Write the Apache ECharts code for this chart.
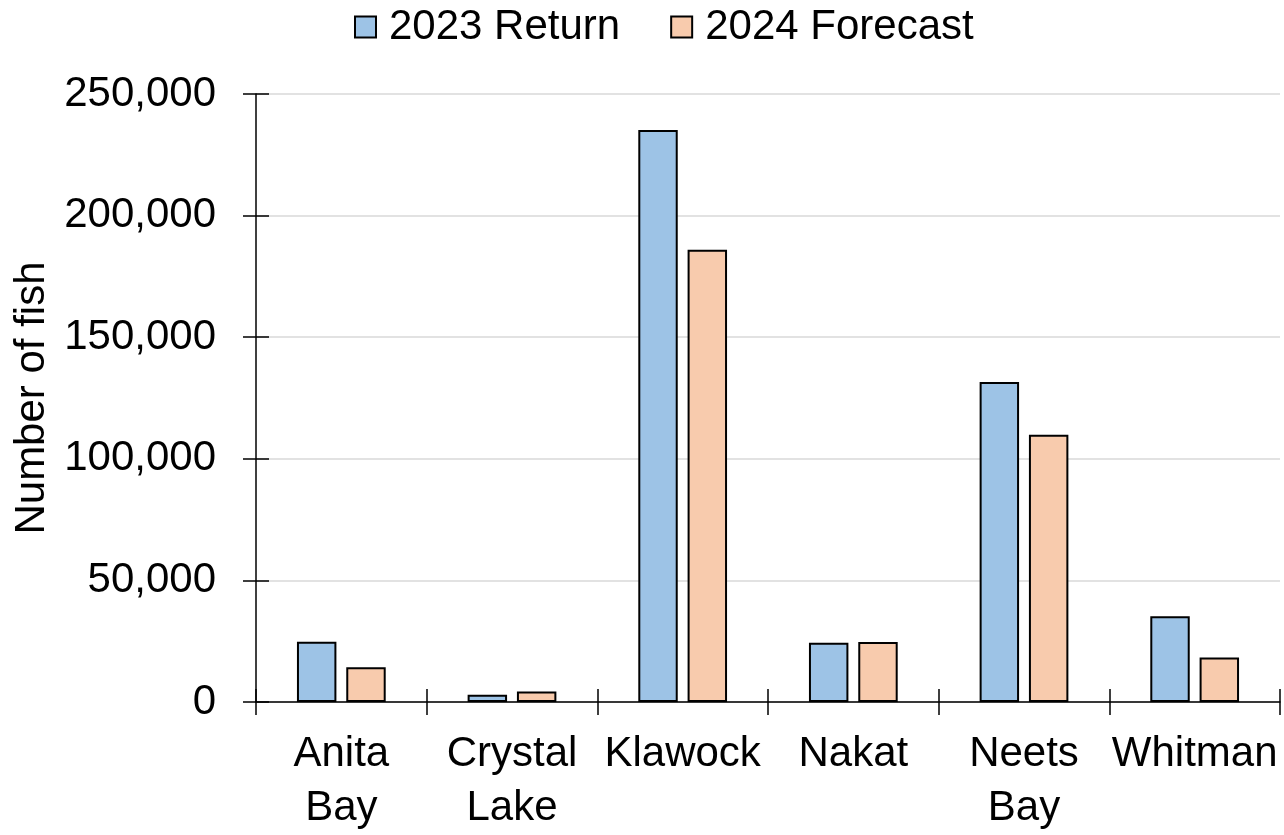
<!DOCTYPE html>
<html>
<head>
<meta charset="utf-8">
<script src="https://cdn.jsdelivr.net/npm/echarts@6/dist/echarts.min.js"></script>
<style>html,body{margin:0;padding:0;background:#fff;overflow:hidden}#c{width:1284px;height:835px}</style>
</head>
<body>
<div id="c"></div>
<script>
const categories = ['Anita\nBay', 'Crystal\nLake', 'Klawock', 'Nakat', 'Neets\nBay', 'Whitman'];
const seriesNames = ['2023 Return', '2024 Forecast'];
const return2023 = [24800, 3000, 235200, 24400, 131600, 35300];
const forecast2024 = [14300, 4300, 186000, 24700, 109900, 18300];
const yMin = 0, yMax = 250000, yStep = 50000;

const FONT = '"Liberation Sans", Arial, sans-serif';
const fmt = v => Number(v).toLocaleString('en-US');
const chart = echarts.init(document.getElementById('c'), null, {renderer: 'canvas', width: 1284, height: 835});
chart.setOption({
  animation: false,
  backgroundColor: '#fff',
  textStyle: {fontFamily: FONT},
  legend: {
    top: 1, left: 349,
    itemWidth: 21, itemHeight: 21, itemGap: 50,
    icon: 'rect',
    itemStyle: {borderColor: '#000', borderWidth: 2},
    textStyle: {fontSize: 42, color: '#000', fontFamily: FONT, padding: [0, 0, 0, 8]},
    data: seriesNames
  },
  grid: {left: 256, right: 4, top: 94, height: 618, containLabel: false},
  xAxis: [{
    type: 'category', data: categories, position: 'bottom',
    axisLine: {lineStyle: {color: '#000', width: 1.5}},
    axisTick: {show: true, length: 13, lineStyle: {color: '#000', width: 1.5}},
    axisLabel: {interval: 0, fontSize: 42, color: '#000', fontFamily: FONT, margin: 25, lineHeight: 54}
  }, {
    type: 'category', data: categories, position: 'bottom',
    axisLine: {show: false},
    axisTick: {show: true, inside: true, length: 13, lineStyle: {color: '#000', width: 1.5}},
    axisLabel: {show: false}
  }],
  yAxis: [{
    type: 'value', min: yMin, max: yMax, interval: yStep, position: 'left',
    name: 'Number of fish', nameLocation: 'middle', nameGap: 203,
    nameTextStyle: {fontSize: 42, color: '#000', fontFamily: FONT},
    axisLine: {show: true, lineStyle: {color: '#000', width: 1.5}},
    axisTick: {show: true, length: 13, lineStyle: {color: '#000', width: 1.5}},
    axisLabel: {fontSize: 42, color: '#000', fontFamily: FONT, margin: 40, formatter: fmt},
    splitLine: {show: true, lineStyle: {color: '#d9d9d9', width: 1.5}}
  }, {
    type: 'value', min: yMin, max: yMax, interval: yStep, position: 'left',
    axisLine: {show: false},
    axisTick: {show: true, inside: true, length: 13, lineStyle: {color: '#000', width: 1.5}},
    axisLabel: {show: false},
    splitLine: {show: false}
  }],
  series: [{
    name: seriesNames[0], type: 'bar', data: return2023,
    barGap: '25%', barCategoryGap: '48%',
    itemStyle: {color: '#9dc3e6', borderColor: '#000', borderWidth: 2}
  }, {
    name: seriesNames[1], type: 'bar', data: forecast2024,
    barGap: '25%', barCategoryGap: '48%',
    itemStyle: {color: '#f8cbad', borderColor: '#000', borderWidth: 2}
  }]
});
</script>
</body>
</html>
